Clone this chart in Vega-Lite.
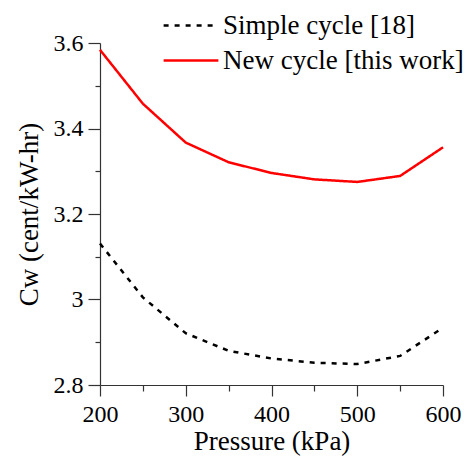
{
  "$schema": "https://vega.github.io/schema/vega-lite/v6.json",
  "width": 343,
  "height": 342,
  "autosize": {"type": "none"},
  "padding": {"left": 100, "top": 43, "right": 27, "bottom": 75},
  "background": "white",
  "config": {
    "view": {"stroke": null},
    "font": "Liberation Serif",
    "axis": {
      "labelFont": "Liberation Serif",
      "titleFont": "Liberation Serif",
      "labelFontSize": 24,
      "titleFontSize": 27,
      "titleFontWeight": "normal",
      "labelColor": "black",
      "titleColor": "black",
      "domainColor": "#333",
      "tickColor": "#333",
      "domainWidth": 1.2,
      "tickWidth": 1.2,
      "grid": false,
      "labelFlush": false
    },
    "legend": {
      "labelFont": "Liberation Serif",
      "labelFontSize": 27,
      "labelColor": "black",
      "labelLimit": 0
    }
  },
  "data": {
    "values": [
      {"p": 200, "cw": 3.131, "cycle": "Simple cycle [18]"},
      {"p": 250, "cw": 3.005, "cycle": "Simple cycle [18]"},
      {"p": 300, "cw": 2.921, "cycle": "Simple cycle [18]"},
      {"p": 350, "cw": 2.880, "cycle": "Simple cycle [18]"},
      {"p": 400, "cw": 2.862, "cycle": "Simple cycle [18]"},
      {"p": 450, "cw": 2.852, "cycle": "Simple cycle [18]"},
      {"p": 500, "cw": 2.849, "cycle": "Simple cycle [18]"},
      {"p": 550, "cw": 2.868, "cycle": "Simple cycle [18]"},
      {"p": 600, "cw": 2.934, "cycle": "Simple cycle [18]"},
      {"p": 200, "cw": 3.584, "cycle": "New cycle [this work]"},
      {"p": 250, "cw": 3.458, "cycle": "New cycle [this work]"},
      {"p": 300, "cw": 3.367, "cycle": "New cycle [this work]"},
      {"p": 350, "cw": 3.321, "cycle": "New cycle [this work]"},
      {"p": 400, "cw": 3.296, "cycle": "New cycle [this work]"},
      {"p": 450, "cw": 3.281, "cycle": "New cycle [this work]"},
      {"p": 500, "cw": 3.275, "cycle": "New cycle [this work]"},
      {"p": 550, "cw": 3.289, "cycle": "New cycle [this work]"},
      {"p": 600, "cw": 3.356, "cycle": "New cycle [this work]"}
    ]
  },
  "mark": {"type": "line", "strokeWidth": 2.5},
  "encoding": {
    "x": {
      "field": "p",
      "type": "quantitative",
      "scale": {"domain": [200, 600], "nice": false, "zero": false},
      "axis": {
        "title": "Pressure (kPa)",
        "values": [200, 250, 300, 350, 400, 450, 500, 550, 600],
        "labelExpr": "datum.value % 100 === 0 ? datum.label : ''",
        "tickSize": {"condition": {"test": "datum.value % 100 === 0", "value": 11}, "value": 6},
        "labelPadding": 6,
        "titlePadding": 2
      }
    },
    "y": {
      "field": "cw",
      "type": "quantitative",
      "scale": {"domain": [2.8, 3.6], "nice": false, "zero": false},
      "axis": {
        "title": "Cw (cent/kW-hr)",
        "values": [2.8, 2.9, 3.0, 3.1, 3.2, 3.3, 3.4, 3.5, 3.6],
        "format": "~g",
        "labelExpr": "round(datum.value * 10) % 2 === 0 ? datum.label : ''",
        "tickSize": {"condition": {"test": "round(datum.value * 10) % 2 === 0", "value": 12}, "value": 5},
        "labelPadding": 5,
        "titlePadding": 10
      }
    },
    "color": {
      "field": "cycle",
      "type": "nominal",
      "sort": ["Simple cycle [18]", "New cycle [this work]"],
      "scale": {"domain": ["Simple cycle [18]", "New cycle [this work]"], "range": ["black", "#ff0000"]},
      "legend": {
        "title": null,
        "orient": "none",
        "legendX": 62,
        "legendY": -35,
        "padding": 0,
        "symbolType": "stroke",
        "symbolSize": 3000,
        "symbolStrokeWidth": 2.5,
        "clipHeight": 35,
        "rowPadding": 0,
        "labelOffset": 3
      }
    },
    "strokeDash": {
      "field": "cycle",
      "type": "nominal",
      "sort": ["Simple cycle [18]", "New cycle [this work]"],
      "scale": {"domain": ["Simple cycle [18]", "New cycle [this work]"], "range": [[5, 6], [1, 0]]},
      "legend": null
    }
  }
}
